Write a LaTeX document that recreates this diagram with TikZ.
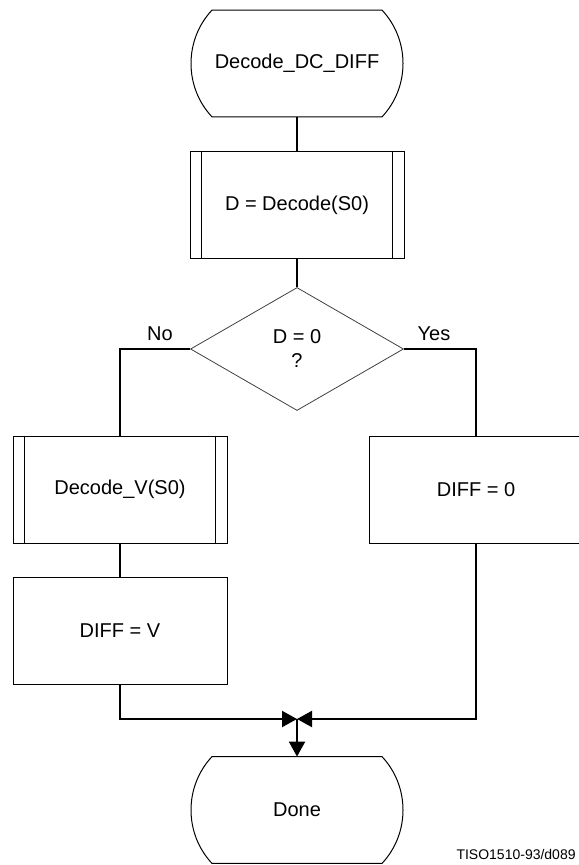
\documentclass[tikz,border=0pt]{standalone}
\usepackage{fontspec}
\setmainfont{Liberation Sans}
\usetikzlibrary{calc,shapes.geometric,arrows.meta}
\tikzset{
  every node/.style={font=\fontsize{10}{12}\selectfont},
  procbox/.style={draw, line width=0.5pt, minimum width=107pt, minimum height=53.5pt, inner sep=0pt},
  termbox/.style={minimum width=106pt, minimum height=53pt, inner sep=0pt},
  decbox/.style={diamond, draw=black!75, line width=0.4pt, minimum width=106.5pt, minimum height=61.5pt, inner sep=0pt, align=center},
  conn/.style={line width=1pt},
  tip/.style={-{Triangle[length=7.5pt,width=8pt]}},
  capt/.style={anchor=east, inner sep=0pt, font=\fontsize{7}{9}\selectfont}
}
\newcommand\termoutline[1]{%
  \draw[line width=0.5pt] ($(#1.north)+(-85,0)$) -- ($(#1.north)+(85,0)$)
    .. controls ($(#1.center)+(113,-23.5)$) and ($(#1.center)+(113,23.5)$) .. ($(#1.south)+(85,0)$)
    -- ($(#1.south)+(-85,0)$)
    .. controls ($(#1.center)+(-113,23.5)$) and ($(#1.center)+(-113,-23.5)$) .. cycle;}
\newcommand\subbars[1]{%
  \draw[line width=0.5pt] ($(#1.north west)+(12,0)$) -- ($(#1.south west)+(12,0)$);
  \draw[line width=0.5pt] ($(#1.north east)+(-12,0)$) -- ($(#1.south east)+(-12,0)$);}
\begin{document}
\begin{tikzpicture}[x=0.5pt,y=-0.5pt]
\useasboundingbox (0,0) rectangle (578,865);
\node[termbox] (start) at (297,63.5) {Decode\_DC\_DIFF};
\termoutline{start}
\node[procbox] (dec) at (297,205.5) {D = Decode(S0)};
\subbars{dec}
\node[decbox] (q) at (297,349) {D = 0\\?};
\node (no) at (160,334) {No};
\node (yes) at (434,334) {Yes};
\node[procbox] (decv) at (120,489.5) {Decode\_V(S0)};
\subbars{decv}
\node[procbox] (diff0) at (476,489.5) {DIFF = 0};
\node[procbox] (diffv) at (120,631) {DIFF = V};
\coordinate (m) at (297,719);
\node[termbox] (done) at (297,810) {Done};
\termoutline{done}
\node[capt] (cap) at (576,854) {TISO1510-93/d089};
\draw[conn] (start.south) -- (dec.north);
\draw[conn] (dec.south) -- (q.north);
\draw[conn] (q.west) -| (decv.north);
\draw[conn] (q.east) -| (diff0.north);
\draw[conn] (decv.south) -- (diffv.north);
\draw[conn,tip] (diffv.south) |- (m);
\draw[conn,tip] (diff0.south) |- (m);
\draw[conn,tip] (m) -- (done.north);
\end{tikzpicture}
\end{document}
